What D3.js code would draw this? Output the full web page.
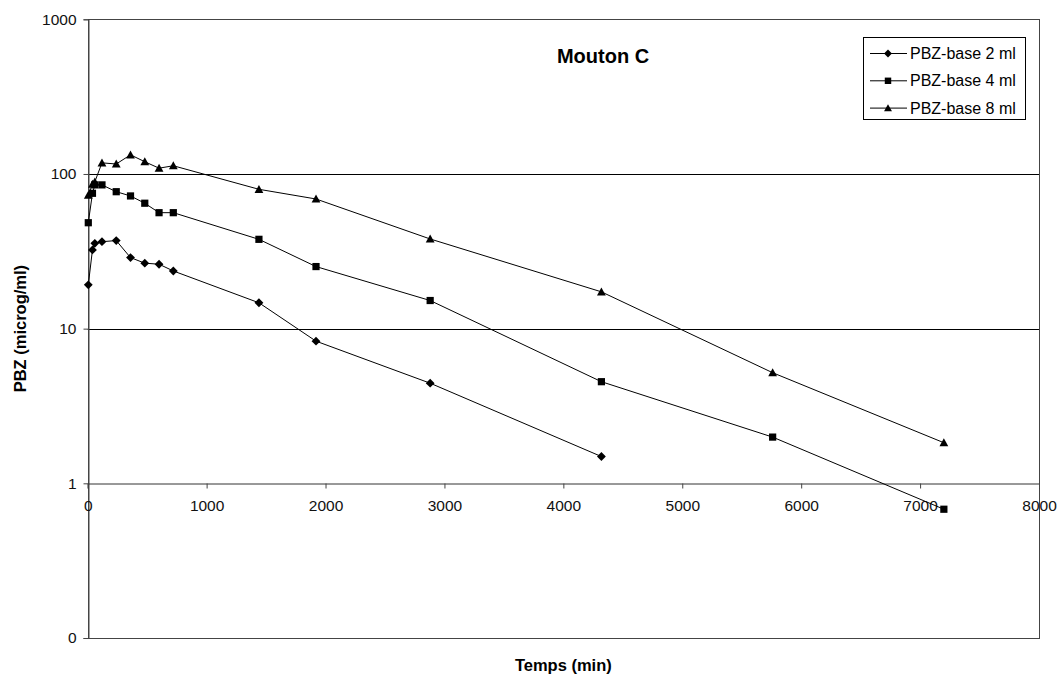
<!DOCTYPE html>
<html>
<head>
<meta charset="utf-8">
<script src="https://cdn.jsdelivr.net/npm/d3@7"></script>
<style>
  html, body { margin: 0; padding: 0; background: #fff; }
  svg { display: block; }
  text { font-family: "Liberation Sans", Arial, sans-serif; }
</style>
</head>
<body>
<div id="chart"></div>
<script>
// ---- data ----
const title = "Mouton C";
const xTitle = "Temps (min)";
const yTitle = "PBZ (microg/ml)";
const times = [5, 40, 60, 120, 240, 360, 480, 600, 720, 1440, 1920, 2880, 4320, 5760, 7200];
const seriesNames = ["PBZ-base 2 ml", "PBZ-base 4 ml", "PBZ-base 8 ml"];
const base2ml = [19.2, 32.3, 35.6, 36.5, 37.1, 28.8, 26.5, 26.1, 23.6, 14.7, 8.3, 4.44, 1.49, null, null];
const base4ml = [48.4, 75, 85, 85, 76.8, 72.1, 64.7, 56.2, 56.2, 37.8, 25.2, 15.2, 4.54, 1.99, 0.68];
const base8ml = [73, 86, 89, 118, 116, 133, 120, 109, 113, 79.6, 68.9, 38.0, 17.3, 5.19, 1.83];
const xTicks = [0, 1000, 2000, 3000, 4000, 5000, 6000, 7000, 8000];
const yTicks = [0.1, 1, 10, 100, 1000];
const yTickLabels = ["0", "1", "10", "100", "1000"];
const gridValues = [10, 100];

// ---- layout ----
const W = 1061, H = 682;
const L = 87.7, R = 1039, T = 19.3, B = 638;

const svg = d3.select("#chart").append("svg").attr("width", W).attr("height", H);

const x = d3.scaleLinear().domain([0, 8000]).range([L, R]);
const y = d3.scaleLog().domain([0.1, 1000]).range([B, T]);

// gridlines
svg.append("g").selectAll("line").data(gridValues).join("line")
  .attr("x1", L).attr("x2", R)
  .attr("y1", d => Math.round(y(d)) + 0.5).attr("y2", d => Math.round(y(d)) + 0.5)
  .attr("stroke", "#000").attr("stroke-width", 1);

// plot border
svg.append("rect")
  .attr("x", Math.round(L) + 0.5).attr("y", Math.round(T) + 0.5)
  .attr("width", Math.round(R) - Math.round(L)).attr("height", Math.round(B) - Math.round(T))
  .attr("fill", "none").attr("stroke", "#444").attr("stroke-width", 1);

// y axis
const yAxis = d3.axisLeft(y).tickValues(yTicks)
  .tickFormat((d, i) => yTickLabels[i]).tickSize(5).tickPadding(7);
const gy = svg.append("g").attr("transform", `translate(${Math.round(L) + 0.5},0)`).call(yAxis);
gy.select(".domain").attr("stroke", "#444");
gy.selectAll(".tick line").attr("stroke", "#444");
gy.selectAll(".tick text").attr("font-size", 15.5).attr("fill", "#111")
  .attr("font-family", "Liberation Sans, Arial, sans-serif");

// x axis crossing at y = 1
const xAxis = d3.axisBottom(x).tickValues(xTicks).tickFormat(d3.format("d"))
  .tickSize(5).tickPadding(11);
const gx = svg.append("g").attr("transform", `translate(0,${Math.round(y(1)) + 0.5})`).call(xAxis);
gx.select(".domain").attr("stroke", "#333");
gx.selectAll(".tick line").attr("stroke", "#444");
gx.selectAll(".tick text").attr("font-size", 15.5).attr("fill", "#111")
  .attr("font-family", "Liberation Sans, Arial, sans-serif");

// marker shapes
const diamond = { draw(ctx, size) { const r = Math.sqrt(size) / 2 * 1.25; ctx.moveTo(0, -r); ctx.lineTo(r, 0); ctx.lineTo(0, r); ctx.lineTo(-r, 0); ctx.closePath(); } };
const square = { draw(ctx, size) { const r = Math.sqrt(size) / 2; ctx.rect(-r, -r, 2 * r, 2 * r); } };
const triangle = { draw(ctx, size) { const r = Math.sqrt(size) / 2; ctx.moveTo(0, -r * 1.1); ctx.lineTo(r * 1.1, r * 0.9); ctx.lineTo(-r * 1.1, r * 0.9); ctx.closePath(); } };

const series = [
  { name: seriesNames[0], values: base2ml, shape: diamond, size: 50 },
  { name: seriesNames[1], values: base4ml, shape: square, size: 52 },
  { name: seriesNames[2], values: base8ml, shape: triangle, size: 64 }
];

const line = d3.line().defined(d => d.v != null).x(d => x(d.t)).y(d => y(d.v));

series.forEach(s => {
  const pts = times.map((t, i) => ({ t, v: s.values[i] })).filter(d => d.v != null);
  svg.append("path").datum(pts).attr("d", line)
    .attr("fill", "none").attr("stroke", "#000").attr("stroke-width", 1);
  svg.append("g").selectAll("path").data(pts).join("path")
    .attr("transform", d => `translate(${x(d.t)},${y(d.v)})`)
    .attr("d", d3.symbol().type(s.shape).size(s.size))
    .attr("fill", "#000");
});

// title
svg.append("text").attr("x", 603).attr("y", 63).attr("text-anchor", "middle")
  .attr("font-size", 20).attr("font-weight", "bold").text(title);

// axis titles
svg.append("text").attr("x", (L + R) / 2).attr("y", 671).attr("text-anchor", "middle")
  .attr("font-size", 16.5).attr("font-weight", "bold").text(xTitle);
svg.append("text").attr("transform", `translate(26,${(T + B) / 2}) rotate(-90)`)
  .attr("text-anchor", "middle").attr("font-size", 16.5).attr("font-weight", "bold").text(yTitle);

// legend
const lg = svg.append("g");
lg.append("rect").attr("x", 863.5).attr("y", 37.5).attr("width", 162).attr("height", 82)
  .attr("fill", "#fff").attr("stroke", "#000").attr("stroke-width", 1);
series.forEach((s, i) => {
  const cy = 53.5 + i * 27.3;
  lg.append("line").attr("x1", 870).attr("x2", 907).attr("y1", cy).attr("y2", cy)
    .attr("stroke", "#000").attr("stroke-width", 1);
  lg.append("path").attr("transform", `translate(888,${cy})`)
    .attr("d", d3.symbol().type(s.shape).size(s.size * 0.8)).attr("fill", "#000");
  lg.append("text").attr("x", 910).attr("y", cy + 5.5).attr("font-size", 16).text(s.name);
});
</script>
</body>
</html>
